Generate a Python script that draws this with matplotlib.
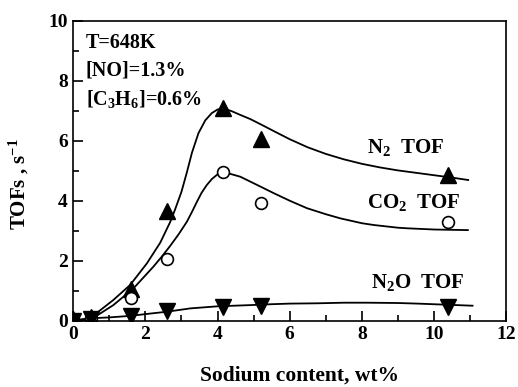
import matplotlib
matplotlib.use("Agg")
import matplotlib.pyplot as plt
from matplotlib.ticker import MultipleLocator

plt.rcParams["font.family"] = ["Liberation Serif", "DejaVu Serif"]
plt.rcParams["font.weight"] = "bold"
plt.rcParams["mathtext.fontset"] = "custom"
plt.rcParams["mathtext.rm"] = "Liberation Serif:bold"
plt.rcParams["mathtext.it"] = "Liberation Serif:bold"
plt.rcParams["mathtext.bf"] = "Liberation Serif:bold"

# ---- measured points ----
na_wt = [0, 0.5, 1.6, 2.6, 4.15, 5.2, 10.4]
n2_tof = [0.05, 0.12, 1.05, 3.65, 7.1, 6.05, 4.85]
co2_tof = [0.05, 0.1, 0.75, 2.05, 4.95, 3.92, 3.3]
n2o_tof = [0.0, 0.05, 0.15, 0.32, 0.45, 0.48, 0.47]

# ---- fitted curves ----
n2_fit_x = [0, 0.46, 1.11, 1.575, 2.04, 2.41, 2.55, 2.69, 2.82, 3.0, 3.15, 3.29,
            3.47, 3.66, 3.84, 4.0, 4.16, 4.4, 4.63, 4.91, 5.19, 5.56, 6.0, 6.5,
            7.0, 7.5, 8.0, 8.5, 9.0, 9.5, 10.0, 10.5, 10.95]
n2_fit_y = [0, 0.08, 0.69, 1.19, 1.91, 2.6, 2.95, 3.3, 3.7, 4.3, 4.95, 5.6,
            6.25, 6.68, 6.92, 7.04, 7.08, 6.98, 6.86, 6.72, 6.55, 6.32, 6.05, 5.78,
            5.56, 5.38, 5.23, 5.11, 5.01, 4.93, 4.85, 4.77, 4.69]

co2_fit_x = [0, 0.46, 1.11, 1.67, 2.22, 2.45, 2.69, 2.92, 3.15, 3.3, 3.43, 3.56,
             3.7, 3.84, 3.98, 4.08, 4.19, 4.63, 5.19, 5.56, 6.0, 6.48, 7.0, 7.41,
             8.0, 8.33, 9.0, 9.26, 10.0, 10.94]
co2_fit_y = [0, 0.02, 0.52, 1.08, 1.8, 2.13, 2.5, 2.88, 3.3, 3.65, 3.97, 4.27,
             4.52, 4.72, 4.86, 4.93, 4.95, 4.8, 4.47, 4.25, 4.0, 3.75, 3.55, 3.41,
             3.25, 3.19, 3.1, 3.08, 3.04, 3.02]

n2o_fit_x = [0, 0.46, 1.0, 1.57, 2.0, 2.6, 3.24, 4.0, 4.91, 5.5, 6.0, 6.76,
             7.5, 8.15, 9.0, 9.54, 10.2, 11.07]
n2o_fit_y = [0, 0.08, 0.11, 0.16, 0.22, 0.3, 0.41, 0.48, 0.52, 0.55, 0.57, 0.58,
             0.6, 0.6, 0.59, 0.57, 0.54, 0.5]

fig = plt.figure(figsize=(5.18, 3.87), dpi=100)
ax = fig.add_axes([0.1415, 0.1713, 0.8355, 0.7752])

ax.plot(n2_fit_x, n2_fit_y, color="black", lw=1.3)
ax.plot(co2_fit_x, co2_fit_y, color="black", lw=1.3)
ax.plot(n2o_fit_x, n2o_fit_y, color="black", lw=1.3)

ax.plot(na_wt, n2_tof, "^", color="black", ms=11, ls="none")
ax.plot(na_wt, co2_tof, "o", mfc="white", mec="black", mew=1.2, ms=8.5, ls="none")
ax.plot(na_wt, n2o_tof, "v", color="black", ms=11, ls="none")

ax.set_xlim(0, 12)
ax.set_ylim(0, 10)
ax.xaxis.set_major_locator(MultipleLocator(2))
ax.xaxis.set_minor_locator(MultipleLocator(1))
ax.yaxis.set_major_locator(MultipleLocator(2))
ax.yaxis.set_minor_locator(MultipleLocator(1))
ax.tick_params(which="both", direction="in", top=False, right=False,
               labelsize=14, width=1.2)
ax.tick_params(which="major", length=7, pad=4)
ax.tick_params(which="minor", length=4)
for s in ax.spines.values():
    s.set_linewidth(1.2)

fig.text(0.579, 0.016, "Sodium content, wt%", fontsize=15.5, fontweight="bold",
         ha="center", va="baseline")
fig.text(0.037, 0.525, "TOFs , s$^{-1}$", fontsize=15, fontweight="bold",
         rotation=90, ha="center", va="center")

ax.text(0.35, 9.1, "T=648K", fontsize=14.5)
ax.text(0.35, 8.16, "[NO]=1.3%", fontsize=14.5)
ax.text(0.35, 7.19, "[C$_3$H$_6$]=0.6%", fontsize=14.5)

ax.text(8.13, 5.6, "N$_2$  TOF", fontsize=15)
ax.text(8.15, 3.75, "CO$_2$  TOF", fontsize=15)
ax.text(8.26, 1.08, "N$_2$O  TOF", fontsize=15)

fig.savefig("out.png", dpi=100)
